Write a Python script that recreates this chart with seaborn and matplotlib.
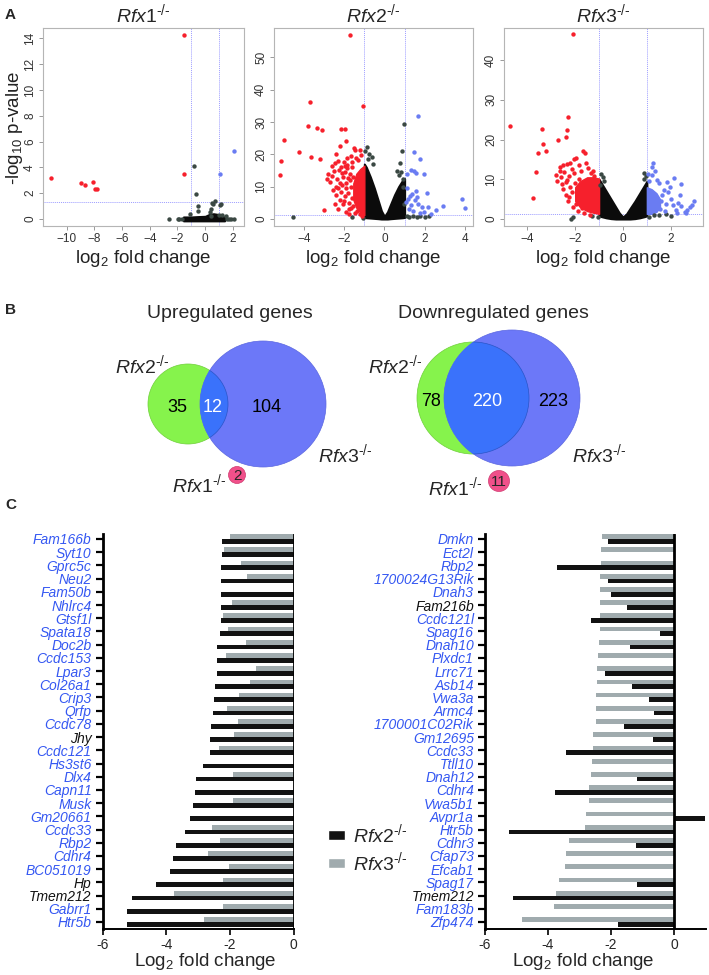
import numpy as np
import pandas as pd
import matplotlib
matplotlib.use("Agg")
import matplotlib.pyplot as plt
import matplotlib.patches as mpatches
import seaborn as sns

# ---------------- DATA ----------------
# Volcano plots: dense "core" envelopes (x, low, high) + individual points
rfx1_core_x = [-1.57, -1.0, -0.5, 0.0, 0.3, 0.6, 0.9, 1.2, 1.40]
rfx1_core_lo = [-0.15, -0.15, -0.15, -0.15, -0.15, -0.15, -0.15, -0.15, -0.15]
rfx1_core_hi = [0.15, 0.15, 0.18, 0.2, 0.35, 0.4, 0.35, 0.2, 0.15]
rfx1_red_x = [-11.1, -8.95, -8.67, -8.1, -7.98, -7.84, -1.50, -1.52]
rfx1_red_y = [3.17, 2.78, 2.60, 2.86, 2.29, 2.29, 14.28, 3.48]
rfx1_blue_x = [2.07, 1.05]
rfx1_blue_y = [5.23, 3.45]
rfx1_gray_x = [-0.78, -0.64, -1.09, -0.55, -0.55, 0.48, 0.71, 1.09, 0.43, 0.36, 0.57, 0.97, 1.21, 1.50, 1.16, 0.45,
               -2.59, -1.95, -1.88, -1.70, 1.60, 1.72, 1.88, 2.05]
rfx1_gray_y = [4.12, 1.93, 0.39, 0.98, 0.64, 1.24, 1.39, 1.08, 0.77, 0.57, 1.18, 0.34, 0.34, 0.26, 1.18, 0.2,
               0.0, 0.0, 0.0, 0.0, 0.0, 0.0, 0.0, 0.0]

rfx2_core_x = [-1.0, -0.9, -0.7, -0.5, -0.3, -0.15, 0.0, 0.15, 0.3, 0.5, 0.7, 0.9, 1.0]
rfx2_core_lo = [0.5, 0.4, 0.3, 0.2, 0.1, 0.0, 0.0, 0.0, 0.1, 0.2, 0.3, 0.4, 0.5]
rfx2_core_hi = [17, 16, 13, 9.5, 5.5, 2.5, 0.8, 2.2, 4.5, 7.5, 10, 12, 12.5]
rfx2_redcore_x = [-1.55, -1.4, -1.2, -1.0]
rfx2_redcore_lo = [6, 3.5, 2, 1.2]
rfx2_redcore_hi = [11, 14, 15.5, 16.5]
rfx2_red_x = [-1.71, -1.08, -3.70, -3.80, -3.34, -3.10, -2.18, -1.96, -5.01, -1.93, -4.25, -3.65, -3.19, -5.16,
              -5.17, -3.02, -2.79, -2.21, -2.43, -1.53, -1.45, -1.20, -2.60, -2.45, -2.30, -2.00, -1.85, -1.65,
              -1.40, -2.70, -2.55, -2.35, -2.20, -2.30, -2.05, -1.90, -1.75, -1.95, -2.10, -1.80, -1.70, -1.60,
              -1.55, -1.90, -2.40, -2.60, -2.25, -2.05, -1.35, -1.20, -1.10, -2.15, -2.50, -1.85, -1.62, -1.30,
              -1.15, -2.85, -2.40, -2.00, -1.78, -1.48, -1.72, -1.88, -2.12, -2.32, -1.68, -1.82, -1.95, -2.22,
              -1.60, -1.75, -2.48, -2.15, -1.98, -1.65, -1.58, -1.90]
rfx2_red_y = [57.0, 34.9, 36.1, 28.8, 28.2, 27.5, 27.7, 27.7, 24.4, 24.0, 20.8, 19.1, 18.5, 17.8,
              13.7, 2.8, 13.9, 22.7, 20.1, 21.9, 21.2, 21.5, 16.5, 17.2, 18.0, 17.5, 18.8, 19.5,
              19.0, 11.5, 9.0, 12.5, 6.0, 3.2, 4.5, 2.2, 1.5, 14.5, 10.5, 8.0, 12.0, 6.5,
              4.0, 11.2, 7.5, 13.2, 15.3, 13.0, 2.5, 1.5, 1.0, 16.0, 15.0, 16.8, 17.5, 18.3,
              19.8, 12.5, 10.0, 5.5, 3.0, 2.0, 14.0, 15.8, 14.2, 9.5, 9.8, 12.8, 7.0, 11.0,
              16.0, 5.0, 4.8, 8.5, 16.5, 3.5, 13.0, 9.5]
rfx2_blue_x = [1.65, 1.46, 1.76, 1.33, 1.45, 1.10, 1.55, 1.98, 1.57, 2.12, 3.83, 4.01, 2.92, 2.56, 1.89, 2.17,
               1.98, 1.05, 1.15, 1.25, 1.35, 1.50, 1.68, 1.60, 1.76, 1.20, 1.40, 1.30, 1.12, 2.30]
rfx2_blue_y = [32.0, 20.6, 18.5, 15.3, 15.0, 13.9, 14.1, 13.9, 8.8, 8.1, 6.2, 3.3, 3.9, 2.7, 3.8, 3.8,
               2.2, 5.2, 6.3, 7.0, 7.6, 5.9, 4.6, 6.9, 1.8, 3.0, 2.5, 4.2, 9.5, 1.5]
rfx2_gray_x = [0.97, 0.85, 0.77, -4.53, -0.89, -0.95, -0.64, -0.80, -0.55, 0.60, 0.70, 0.92, -1.62, 1.40, 1.60,
               1.75, 2.00, 2.20, 1.20, -1.05, 1.10, 0.95, 0.90, 0.80, -0.75]
rfx2_gray_y = [29.3, 21.1, 17.2, 0.7, 22.4, 21.0, 19.3, 18.5, 17.0, 15.0, 13.5, 12.5, 0.7, 0.8, 0.6,
               0.9, 0.5, 0.8, 0.6, 0.3, 0.9, 4.5, 9.8, 14.5, 20.0]

rfx3_core_x = [-1.0, -0.9, -0.7, -0.5, -0.3, -0.15, 0.0, 0.15, 0.3, 0.5, 0.7, 0.9, 1.0]
rfx3_core_lo = [0.8, 0.6, 0.3, 0.1, 0.0, 0.0, 0.0, 0.0, 0.0, 0.1, 0.3, 0.6, 0.8]
rfx3_core_hi = [10, 9, 7, 5, 3, 1.5, 0.5, 1.3, 2.7, 4.5, 6.5, 8.5, 9.5]
rfx3_redcore_x = [-2.0, -1.8, -1.5, -1.25, -1.0]
rfx3_redcore_lo = [4.5, 3.0, 2.0, 1.6, 1.3]
rfx3_redcore_hi = [8, 9.5, 10.5, 10.5, 10.2]
rfx3_bluecore_x = [1.0, 1.2, 1.4, 1.55]
rfx3_bluecore_lo = [1.3, 1.3, 1.8, 3.0]
rfx3_bluecore_hi = [8.0, 7.5, 6.5, 5.0]
rfx3_red_x = [-2.09, -4.72, -2.30, -3.37, -2.34, -2.39, -2.74, -3.36, -3.23, -3.55, -3.65, -3.75, -1.68, -1.59,
              -1.95, -2.05, -2.50, -2.35, -2.65, -2.75, -2.60, -2.45, -2.15, -1.85, -1.55, -1.75, -1.35, -1.20,
              -2.50, -2.40, -2.30, -2.10, -1.90, -1.65, -2.55, -1.40, -2.00, -1.80, -2.20, -1.50, -2.62, -2.35,
              -1.45, -1.25, -2.80, -2.20, -2.25, -2.05, -2.15, -2.40, -1.95, -1.70, -2.28, -1.85]
rfx3_red_y = [46.5, 23.5, 25.7, 22.7, 22.4, 20.7, 20.0, 19.0, 17.2, 16.5, 11.8, 5.4, 17.1, 16.6,
              15.3, 15.0, 13.5, 13.8, 13.0, 9.5, 10.5, 11.8, 12.5, 13.5, 14.0, 12.0, 11.5, 10.8,
              7.5, 6.0, 4.5, 3.0, 2.0, 1.5, 8.8, 1.0, 9.0, 6.5, 8.0, 5.0, 12.2, 9.8,
              12.8, 12.0, 11.0, 14.2, 10.8, 11.5, 6.8, 9.2, 3.8, 2.8, 5.5, 10.2]
rfx3_blue_x = [1.25, 1.21, 2.14, 2.43, 1.41, 1.83, 2.98, 2.39, 2.81, 2.60, 2.25, 1.70, 1.90, 2.00, 1.60, 1.80,
               2.10, 2.30, 1.50, 1.65, 1.95, 2.20, 2.70, 2.90, 2.45, 1.55, 1.75, 1.20, 1.10, 1.35, 1.05, 2.65]
rfx3_blue_y = [14.0, 13.2, 10.3, 8.8, 9.8, 9.2, 4.6, 6.1, 3.1, 1.8, 1.4, 7.2, 6.7, 5.0, 4.5, 3.8,
               3.5, 4.0, 9.0, 6.0, 8.0, 2.3, 2.2, 3.6, 3.2, 2.5, 1.9, 11.0, 9.5, 12.0, 11.3, 1.5]
rfx3_gray_x = [-2.17, -2.10, -0.92, -0.85, -0.80, 0.86, 0.95, 1.30, 1.50, 1.80, 2.00, 1.10, -1.05, -1.30, -0.95, 0.90]
rfx3_gray_y = [0.0, 0.4, 11.3, 10.5, 9.6, 11.5, 10.8, 1.0, 0.9, 1.2, 0.8, 0.5, 0.6, 0.8, 8.6, 10.0]

# Venn counts
up_counts = [35, 12, 104]
up_rfx1 = 2
down_counts = [78, 220, 223]
down_rfx1 = 11

# Bar charts (log2 fold change)
left_genes = ["Fam166b", "Syt10", "Gprc5c", "Neu2", "Fam50b", "Nhlrc4", "Gtsf1l", "Spata18", "Doc2b", "Ccdc153",
              "Lpar3", "Col26a1", "Crip3", "Qrfp", "Ccdc78", "Jhy", "Ccdc121", "Hs3st6", "Dlx4", "Capn11",
              "Musk", "Gm20661", "Ccdc33", "Rbp2", "Cdhr4", "BC051019", "Hp", "Tmem212", "Gabrr1", "Htr5b"]
left_rfx2 = [-2.24, -2.24, -2.28, -2.28, -2.28, -2.29, -2.29, -2.32, -2.40, -2.41,
             -2.41, -2.48, -2.49, -2.54, -2.60, -2.63, -2.64, -2.85, -3.07, -3.10,
             -3.17, -3.27, -3.42, -3.71, -3.78, -3.88, -4.34, -5.09, -5.25, -5.25]
left_rfx3 = [-1.99, -2.18, -1.66, -1.47, np.nan, -1.93, -2.22, -2.05, -1.50, -2.12,
             -1.18, -1.37, -1.71, -2.08, -1.74, -1.86, -2.36, np.nan, -1.92, np.nan,
             -1.91, np.nan, -2.57, -2.31, -2.69, -2.04, -2.22, -3.75, -2.22, -2.82]
left_black_labels = ["Jhy", "Hp", "Tmem212"]

right_genes = ["Dmkn", "Ect2l", "Rbp2", "1700024G13Rik", "Dnah3", "Fam216b", "Ccdc121l", "Spag16", "Dnah10",
               "Plxdc1", "Lrrc71", "Asb14", "Vwa3a", "Armc4", "1700001C02Rik", "Gm12695", "Ccdc33", "Ttll10",
               "Dnah12", "Cdhr4", "Vwa5b1", "Avpr1a", "Htr5b", "Cdhr3", "Cfap73", "Efcab1", "Spag17", "Tmem212",
               "Fam183b", "Zfp474"]
right_rfx2 = [-2.08, np.nan, -3.71, -2.10, -1.99, -1.48, -2.65, -0.44, -1.41,
              np.nan, -2.18, -1.34, -0.79, -0.62, -1.60, -0.68, -3.43, np.nan,
              -1.16, -3.79, np.nan, 0.98, -5.25, -1.22, np.nan, np.nan, -1.19, -5.10,
              np.nan, -1.78]
right_rfx3 = [-2.29, -2.31, -2.32, -2.34, -2.34, -2.34, -2.35, -2.35, -2.37,
              -2.40, -2.44, -2.44, -2.47, -2.47, -2.48, -2.56, -2.57, -2.60,
              -2.63, -2.69, -2.71, -2.80, -2.81, -3.33, -3.44, -3.45, -3.64, -3.75,
              -3.82, -4.83]
right_black_labels = ["Fam216b", "Tmem212"]

bar_ticks = [-6, -4, -2, 0]

# ---------------- STYLE ----------------
sns.set_style("ticks")
plt.rcParams['font.family'] = ['Liberation Sans', 'DejaVu Sans']
plt.rcParams['mathtext.fontset'] = 'custom'
plt.rcParams['mathtext.rm'] = 'Liberation Sans'
plt.rcParams['mathtext.it'] = 'Liberation Sans:italic'
plt.rcParams['mathtext.bf'] = 'Liberation Sans:bold'

W, H = 709, 975
fig = plt.figure(figsize=(W / 100, H / 100), dpi=100)


def rect(x0, y0, x1, y1):
    return [x0 / W, 1 - y1 / H, (x1 - x0) / W, (y1 - y0) / H]


def gname(n):
    return r"$\mathit{" + n + r"}^{\mathit{\text{-/-}}}$"


RED = "#f6202c"
BLUE = "#6a7cf2"
GRAY = "#3a4843"
CORE = "#0b0b0b"
THR = "#9d9dff"

# ---------------- A: volcano plots ----------------
volc = [
    dict(rect=rect(43, 28, 244, 226), xlim=(-11.7, 2.8), ylim=(-0.55, 14.8), xt=range(-10, 3, 2), yt=range(0, 15, 2),
         core=(rfx1_core_x, rfx1_core_lo, rfx1_core_hi), rc=None, bc=None,
         red=(rfx1_red_x, rfx1_red_y), blue=(rfx1_blue_x, rfx1_blue_y), gray=(rfx1_gray_x, rfx1_gray_y),
         title="Rfx1"),
    dict(rect=rect(274, 28, 473, 226), xlim=(-5.49, 4.4), ylim=(-2.16, 59.1), xt=range(-4, 5, 2), yt=range(0, 51, 10),
         core=(rfx2_core_x, rfx2_core_lo, rfx2_core_hi), rc=(rfx2_redcore_x, rfx2_redcore_lo, rfx2_redcore_hi),
         bc=None,
         red=(rfx2_red_x, rfx2_red_y), blue=(rfx2_blue_x, rfx2_blue_y), gray=(rfx2_gray_x, rfx2_gray_y),
         title="Rfx2"),
    dict(rect=rect(504, 28, 703, 226), xlim=(-4.98, 3.35), ylim=(-1.76, 48.1), xt=range(-4, 3, 2), yt=range(0, 41, 10),
         core=(rfx3_core_x, rfx3_core_lo, rfx3_core_hi), rc=(rfx3_redcore_x, rfx3_redcore_lo, rfx3_redcore_hi),
         bc=(rfx3_bluecore_x, rfx3_bluecore_lo, rfx3_bluecore_hi),
         red=(rfx3_red_x, rfx3_red_y), blue=(rfx3_blue_x, rfx3_blue_y), gray=(rfx3_gray_x, rfx3_gray_y),
         title="Rfx3"),
]

for v in volc:
    ax = fig.add_axes(v["rect"])
    ax.fill_between(v["core"][0], v["core"][1], v["core"][2], color=CORE, lw=1.5, edgecolor=CORE, zorder=2)
    if v["rc"] is not None:
        ax.fill_between(v["rc"][0], v["rc"][1], v["rc"][2], color=RED, lw=1.0, edgecolor=RED, zorder=2)
    if v["bc"] is not None:
        ax.fill_between(v["bc"][0], v["bc"][1], v["bc"][2], color=BLUE, lw=1.0, edgecolor=BLUE, zorder=2)
    sns.scatterplot(x=v["gray"][0], y=v["gray"][1], color=GRAY, s=10, linewidth=0, ax=ax, zorder=3)
    sns.scatterplot(x=v["red"][0], y=v["red"][1], color=RED, s=10, linewidth=0, ax=ax, zorder=3)
    sns.scatterplot(x=v["blue"][0], y=v["blue"][1], color=BLUE, s=10, linewidth=0, ax=ax, zorder=3)
    for xv in (-1, 1):
        ax.axvline(xv, color=THR, lw=0.7, ls=(0, (1, 1)), zorder=1)
    ax.axhline(1.3, color=THR, lw=0.7, ls=(0, (1, 1)), zorder=1)
    ax.set_xlim(*v["xlim"])
    ax.set_ylim(*v["ylim"])
    ax.set_xticks(list(v["xt"]))
    ax.set_yticks(list(v["yt"]))
    for sp in ax.spines.values():
        sp.set_visible(True)
        sp.set_color("#b5b5b5")
        sp.set_linewidth(0.8)
    ax.tick_params(direction="out", length=3, width=0.7, color="#999999", labelsize=8.5, labelcolor="#333333", pad=2)
    for lab in ax.get_yticklabels():
        lab.set_rotation(90)
        lab.set_va("center")
    bb = v["rect"]
    cx = bb[0] + bb[2] / 2
    fig.text(cx, 1 - 14 / H, gname(v["title"]), ha="center", va="center", fontsize=14)
    fig.text(cx, 1 - 258 / H, r"log$_2$ fold change", ha="center", va="center", fontsize=13.5, color="#222222")

fig.text(15 / W, 1 - 128 / H, r"-log$_{10}$ p-value", ha="center", va="center", rotation=90, fontsize=13.5,
         color="#222222")

# ---------------- B: Venn diagrams ----------------
vax = fig.add_axes(rect(0, 290, 709, 520))
vax.set_xlim(0, 709)
vax.set_ylim(520, 290)
vax.axis("off")

GREEN_C = "#86f34c"
BLUE_C = "#6c78f8"
OVER_C = "#3a72fb"
PINK_C = "#f0508a"


def venn(cg, rg, cb, rb, counts, cpos, one, onepos, onerad, lab2, lab3, lab1):
    g = mpatches.Circle(cg, rg, facecolor=GREEN_C, edgecolor="#6fcf3a", lw=0.5, zorder=1)
    b = mpatches.Circle(cb, rb, facecolor=BLUE_C, edgecolor="#5a66e0", lw=0.5, zorder=2)
    o = mpatches.Circle(cg, rg, facecolor=OVER_C, edgecolor="#2a55c8", lw=0.5, zorder=3)
    vax.add_patch(g)
    vax.add_patch(b)
    vax.add_patch(o)
    o.set_clip_path(b)
    cols = ["black", "white", "black"]
    for c, p, col in zip(counts, cpos, cols):
        vax.text(p[0], p[1], str(c), ha="center", va="center", fontsize=13, color=col, zorder=5)
    pk = mpatches.Circle(onepos, onerad, facecolor=PINK_C, edgecolor="#d03a70", lw=0.5, zorder=4)
    vax.add_patch(pk)
    vax.text(onepos[0], onepos[1] + 0.5, str(one), ha="center", va="center", fontsize=11, zorder=5)
    vax.text(lab2[0], lab2[1], gname("Rfx2"), ha="left", va="center", fontsize=14)
    vax.text(lab3[0], lab3[1], gname("Rfx3"), ha="left", va="center", fontsize=14)
    vax.text(lab1[0], lab1[1], gname("Rfx1"), ha="left", va="center", fontsize=14)


venn((188, 404), 40, (263, 404), 63, up_counts, [(177, 407), (213, 407), (267, 407)],
     up_rfx1, (237, 475), 8.5, (115, 365), (318, 454), (172, 484))
venn((473, 398), 56, (512, 398), 68, down_counts, [(431, 402), (487, 402), (553, 402)],
     down_rfx1, (499, 481), 10.5, (368, 365), (572, 454), (428, 487))
vax.text(230, 313, "Upregulated genes", ha="center", va="center", fontsize=14)
vax.text(493, 313, "Downregulated genes", ha="center", va="center", fontsize=14)

# ---------------- C: bar charts ----------------
BLK = "#121212"
GRY = "#a0abae"
LBLUE = "#3457f2"


def bars(r, genes, v2, v3, blacks, xlim):
    ax = fig.add_axes(r)
    df = pd.DataFrame({
        "gene": genes * 2,
        "strain": ["Rfx3"] * len(genes) + ["Rfx2"] * len(genes),
        "value": list(v3) + list(v2),
    })
    sns.barplot(data=df, y="gene", x="value", hue="strain", hue_order=["Rfx3", "Rfx2"], order=genes,
                palette={"Rfx2": BLK, "Rfx3": GRY}, orient="h", width=0.72, errorbar=None,
                legend=False, ax=ax, saturation=1, linewidth=0)
    ax.axvline(0, color="black", lw=2.0, zorder=5)
    ax.set_xlim(*xlim)
    ax.set_ylim(len(genes) - 0.5, -0.4)
    ax.set_xticks(bar_ticks)
    ax.set_xticklabels([str(t) for t in bar_ticks])
    ax.set_xlabel("")
    ax.set_ylabel("")
    sns.despine(ax=ax)
    ax.spines["left"].set_linewidth(2.0)
    ax.spines["bottom"].set_linewidth(1.4)
    ax.spines["left"].set_color("black")
    ax.spines["bottom"].set_color("black")
    ax.tick_params(axis="y", length=5, width=1.6, color="black", labelsize=10, pad=3)
    ax.tick_params(axis="x", length=4, width=1.2, color="black", labelsize=10, pad=3)
    for lab, g in zip(ax.get_yticklabels(), genes):
        lab.set_fontstyle("italic")
        lab.set_color("#111111" if g in blacks else LBLUE)
    return ax


bars(rect(102.7, 533.7, 293.7, 928.6), left_genes, left_rfx2, left_rfx3, left_black_labels, (-6, 0))
bars(rect(485, 533.7, 705.5, 928.6), right_genes, right_rfx2, right_rfx3, right_black_labels, (-6, 1.0))

fig.text(205 / W, 1 - 962 / H, r"Log$_2$ fold change", ha="center", va="center", fontsize=13.5)
fig.text(583 / W, 1 - 962 / H, r"Log$_2$ fold change", ha="center", va="center", fontsize=13.5)

handles = [mpatches.Patch(facecolor=BLK), mpatches.Patch(facecolor=GRY)]
fig.legend(handles=handles, labels=[gname("Rfx2"), gname("Rfx3")], loc="center left",
           bbox_to_anchor=(314 / W, 1 - 848 / H), frameon=False, fontsize=14, handlelength=0.9,
           handleheight=0.45, labelspacing=0.2, handletextpad=0.4, borderpad=0.2)

# Panel letters
for letter, y in (("A", 15), ("B", 310), ("C", 505)):
    fig.text(5 / W, 1 - y / H, letter, fontsize=11, fontweight="bold", ha="left", va="center")

fig.savefig("out.png", dpi=100)
